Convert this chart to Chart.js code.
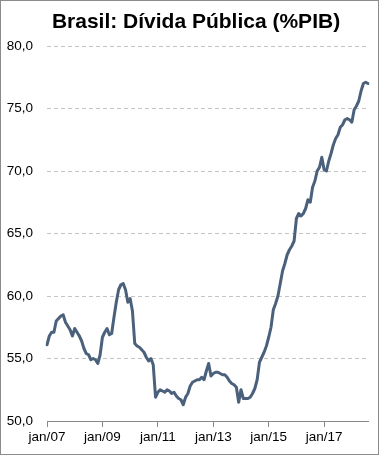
<!DOCTYPE html>
<html>
<head>
<meta charset="utf-8">
<script src="https://cdn.jsdelivr.net/npm/chart.js@4.4.1/dist/chart.umd.min.js"></script>
<style>
    html, body { margin: 0; padding: 0; background: #fff; }
    #box {
        width: 379px; height: 455px;
        box-sizing: border-box;
        border: 1px solid #8c8c8c;
        position: relative;
    }
    #box canvas { display: block; }
</style>
</head>
<body>
<div id="box"><canvas id="myChart" width="377" height="453"></canvas></div>
<script>
// 月の略称と年（カテゴリ）
const meses = ['jan', 'fev', 'mar', 'abr', 'mai', 'jun', 'jul', 'ago', 'set', 'out', 'nov', 'dez'];
const anos = ['07', '08', '09', '10', '11', '12', '13', '14', '15', '16', '17', '18'];

// 年ごとの値（%PIB）
const d2007 = [56.1, 56.8, 57.1, 57.1, 58.0, 58.2, 58.4, 58.5, 57.9, 57.6, 57.3, 56.8];
const d2008 = [57.4, 57.1, 56.8, 56.4, 55.8, 55.4, 55.3, 54.9, 55.0, 54.9, 54.6, 55.3];
const d2009 = [56.7, 57.1, 57.4, 56.9, 57.0, 58.3, 59.5, 60.5, 60.9, 61.0, 60.5, 59.5];
const d2010 = [59.8, 58.8, 56.2, 56.0, 55.9, 55.7, 55.5, 55.1, 54.8, 55.0, 54.5, 51.9];
const d2011 = [52.3, 52.5, 52.4, 52.3, 52.5, 52.4, 52.2, 52.3, 52.0, 51.8, 51.7, 51.3];
const d2012 = [51.9, 52.2, 52.8, 53.1, 53.2, 53.3, 53.3, 53.5, 53.3, 54.0, 54.6, 53.6];
const d2013 = [53.8, 53.9, 53.9, 53.8, 53.7, 53.7, 53.5, 53.2, 53.0, 52.9, 52.7, 51.5];
const d2014 = [52.5, 51.8, 51.8, 51.8, 51.9, 52.2, 52.6, 53.3, 54.7, 55.1, 55.5, 56.0];
const d2015 = [56.7, 57.5, 58.9, 59.4, 60.0, 61.0, 62.0, 62.6, 63.3, 63.7, 64.0, 64.4];
const d2016 = [66.2, 66.6, 66.4, 66.6, 67.0, 67.7, 67.5, 68.7, 69.2, 70.0, 70.3, 71.1];
const d2017 = [70.1, 70.0, 70.8, 71.4, 72.1, 72.6, 72.9, 73.5, 73.7, 74.1, 74.2, 74.1];
const d2018 = [73.9, 74.9, 75.2, 75.6, 76.4, 77.0, 77.1, 77.0];

const divida = [].concat(d2007, d2008, d2009, d2010, d2011, d2012,
                         d2013, d2014, d2015, d2016, d2017, d2018);

// ラベル: jan/07, fev/07, ...
const labels = [];
anos.forEach(a => meses.forEach(m => labels.push(m + '/' + a)));
labels.length = divida.length;

const titulo = 'Brasil: Dívida Pública (%PIB)';
const fonte = "'Liberation Sans', Arial, sans-serif";

// タイトルは少し右寄りなので自前で描く
const tituloPlugin = {
    id: 'tituloPlugin',
    afterDraw(chart) {
        const c = chart.ctx;
        c.save();
        c.font = 'bold 21px ' + fonte;
        c.fillStyle = '#000';
        c.textAlign = 'center';
        c.textBaseline = 'alphabetic';
        c.fillText(titulo, 195, 27);
        c.restore();
    }
};

const ctx = document.getElementById('myChart').getContext('2d');
const myChart = new Chart(ctx, {
    type: 'line',
    data: {
        labels: labels,
        datasets: [{
            label: 'Dívida Pública (%PIB)',
            data: divida,
            borderColor: '#4b617b',
            borderWidth: 3,
            pointRadius: 0,
            tension: 0,
            borderJoinStyle: 'round',
            borderCapStyle: 'round',
            fill: false
        }]
    },
    plugins: [tituloPlugin],
    options: {
        responsive: false,
        animation: false,
        layout: { padding: { left: 0, right: 10, top: 45, bottom: 0 } },
        plugins: {
            legend: { display: false },
            tooltip: { enabled: false },
            title: { display: false }
        },
        scales: {
            x: {
                type: 'category',
                offset: false,
                afterFit: (s) => { s.height = 33; },
                border: { display: true, color: '#888', width: 1 },
                grid: {
                    drawOnChartArea: false,
                    drawTicks: true,
                    tickLength: 6,
                    color: (c) => (c.index % 24 === 0 ? '#888' : 'transparent')
                },
                ticks: {
                    autoSkip: false,
                    maxRotation: 0,
                    padding: 2,
                    color: '#000',
                    font: { family: fonte, size: 13.5 },
                    callback: function (v, i) { return i % 24 === 0 ? this.getLabelForValue(v) : ''; }
                }
            },
            y: {
                min: 50,
                max: 80,
                afterFit: (s) => { s.width = 46; },
                border: { display: false, dash: [4, 3] },
                grid: { color: '#c4c4c4', drawTicks: false },
                ticks: {
                    stepSize: 5,
                    padding: 14,
                    color: '#000',
                    font: { family: fonte, size: 13.5 },
                    callback: (v) => v.toFixed(1).replace('.', ',')
                }
            }
        }
    }
});
</script>
</body>
</html>
